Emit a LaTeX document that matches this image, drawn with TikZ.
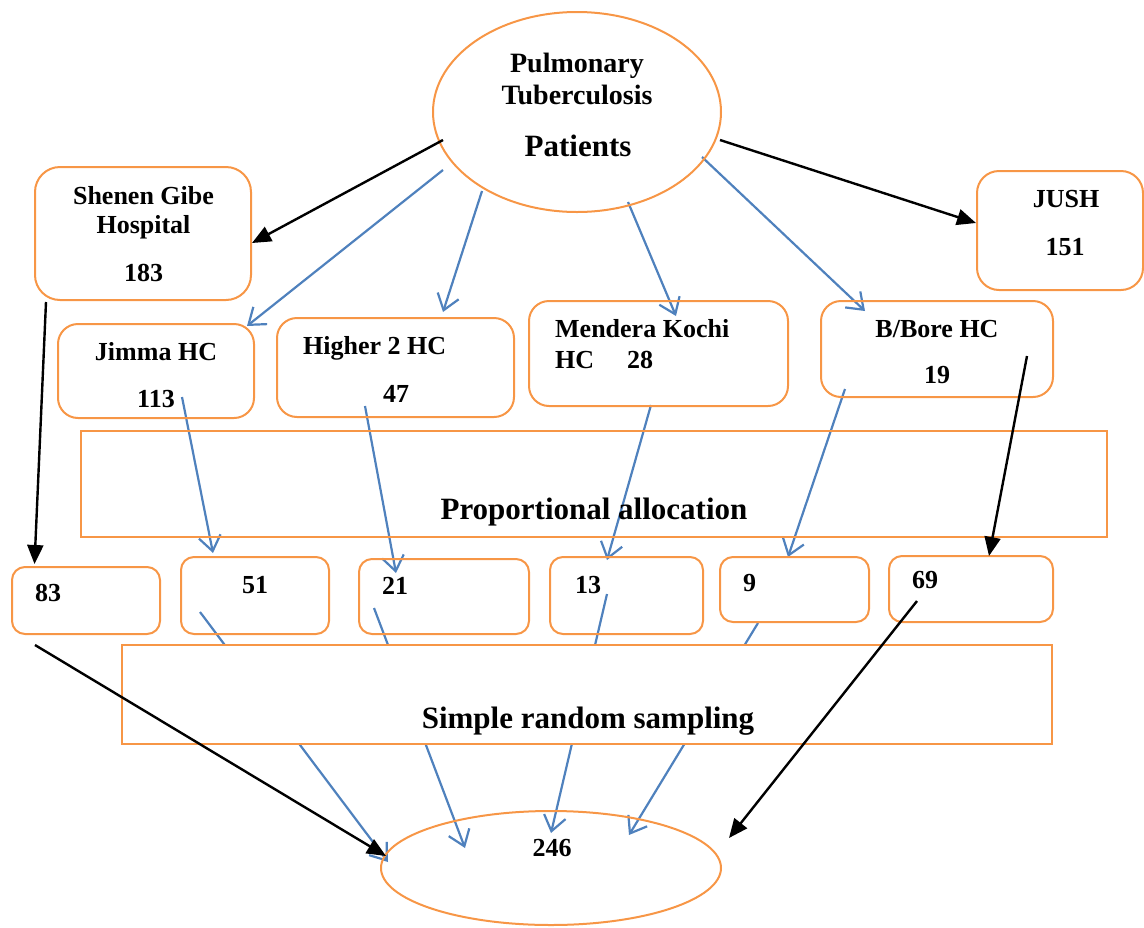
\documentclass[tikz,border=0pt]{standalone}
\usepackage{fontspec}
\setmainfont{Liberation Serif}
\usetikzlibrary{arrows.meta,shapes.geometric}
\definecolor{orng}{HTML}{F79646}
\definecolor{blu}{HTML}{4F81BD}
\begin{document}
\begin{tikzpicture}[x=1pt,y=-1pt,
  obox/.style={draw=orng,line width=2pt,rounded corners=#1,inner sep=0pt,outer sep=0pt},
  obox/.default=20pt,
  rbox/.style={draw=orng,line width=2pt,inner sep=0pt,outer sep=0pt},
  oell/.style={draw=orng,line width=2pt,ellipse,inner sep=0pt,outer sep=0pt},
  txt/.style={font=\fontsize{26}{30}\selectfont\bfseries,inner sep=0pt,anchor=base},
  ltxt/.style={txt,anchor=base west},
  bigtxt/.style={font=\fontsize{31}{35}\selectfont\bfseries,inner sep=0pt,anchor=base},
  medtxt/.style={font=\fontsize{28}{32}\selectfont\bfseries,inner sep=0pt,anchor=base},
  bluearrow/.style={draw=blu,line width=2.2pt,-{Straight Barb[length=15pt,width=22pt]}},
  blackarrow/.style={draw=black,line width=2.4pt,-{Triangle[length=19pt,width=16pt]}}
]
\useasboundingbox (0,0) rectangle (1144,927);

% ---------- endpoints ----------
\coordinate (k1s) at (443,140); \coordinate (k1e) at (252,243);
\coordinate (k2s) at (720,140); \coordinate (k2e) at (976,223);
\coordinate (k3s) at (46,302);  \coordinate (k3e) at (34.5,564);
\coordinate (k4s) at (1027,356); \coordinate (k4e) at (989,556);
\coordinate (k5s) at (35,645);  \coordinate (k5e) at (386,856);
\coordinate (k6s) at (917,601); \coordinate (k6e) at (729,838);

\coordinate (u1s) at (443,170); \coordinate (u1e) at (247,326);
\coordinate (u2s) at (482,191); \coordinate (u2e) at (443,312);
\coordinate (u3s) at (628,202); \coordinate (u3e) at (676,316);
\coordinate (u4s) at (702,157); \coordinate (u4e) at (865,311);
\coordinate (u5s) at (182,397); \coordinate (u5e) at (213,553);
\coordinate (u6s) at (365,406); \coordinate (u6e) at (396,573);
\coordinate (u7s) at (651,405); \coordinate (u7e) at (607,560);
\coordinate (u8s) at (845,389); \coordinate (u8e) at (788,557);
\coordinate (u9s) at (200,612); \coordinate (u9e) at (388,862);
\coordinate (u10s) at (374,608); \coordinate (u10e) at (465,848);
\coordinate (u11s) at (607,594); \coordinate (u11e) at (551,833);
\coordinate (u12s) at (758,623); \coordinate (u12e) at (629,835);

% ---------- blue connectors (behind) ----------
\draw[bluearrow] (u1s) -- (u1e);
\draw[bluearrow] (u2s) -- (u2e);
\draw[bluearrow] (u3s) -- (u3e);
\draw[bluearrow] (u4s) -- (u4e);
\draw[bluearrow] (u5s) -- (u5e);
\draw[bluearrow] (u6s) -- (u6e);
\draw[bluearrow] (u7s) -- (u7e);
\draw[bluearrow] (u8s) -- (u8e);
\draw[bluearrow] (u9s) -- (u9e);
\draw[bluearrow] (u10s) -- (u10e);
\draw[bluearrow] (u11s) -- (u11e);
\draw[bluearrow] (u12s) -- (u12e);

% ---------- shapes ----------
\node[oell,minimum width=288pt,minimum height=200pt] (ptb) at (577,112) {};
\node[obox=25pt,minimum width=216pt,minimum height=133pt] (sg) at (143,233.5) {};
\node[obox=22pt,minimum width=166pt,minimum height=119pt] (jush) at (1060,230.5) {};
\node[obox,minimum width=196pt,minimum height=94pt] (jimma) at (156,371) {};
\node[obox,minimum width=237pt,minimum height=99pt] (higher) at (395.5,367.5) {};
\node[obox,minimum width=259pt,minimum height=105pt] (mendera) at (658.5,353.5) {};
\node[obox,minimum width=232pt,minimum height=96pt] (bbore) at (937,349) {};
\node[rbox,minimum width=1026pt,minimum height=106pt] (pa) at (594,484) {};
\node[obox=13pt,minimum width=148pt,minimum height=67pt] (b83) at (86,600.5) {};
\node[obox=13pt,minimum width=148pt,minimum height=77pt] (b51) at (255,595.5) {};
\node[obox=13pt,minimum width=170pt,minimum height=75pt] (b21) at (444,596.5) {};
\node[obox=13pt,minimum width=153pt,minimum height=77pt] (b13) at (626.5,595.5) {};
\node[obox=13pt,minimum width=149pt,minimum height=65pt] (b9) at (794.5,589.5) {};
\node[obox=13pt,minimum width=164pt,minimum height=66pt] (b69) at (971,589) {};
\node[rbox,fill=white,minimum width=930pt,minimum height=99pt] (srs) at (587,694.5) {};
\node[oell,minimum width=340pt,minimum height=114pt] (tot) at (551,868) {};

% ---------- texts ----------
\node[medtxt] (t1) at (577,72) {Pulmonary};
\node[medtxt] (t2) at (577,104) {Tuberculosis};
\node[bigtxt] (t3) at (578,156) {Patients};
\node[txt] (t4) at (143.5,204) {Shenen Gibe};
\node[txt] (t5) at (143.5,233) {Hospital};
\node[txt] (t6) at (143.5,281) {183};
\node[txt] (t7) at (1066,207) {JUSH};
\node[txt] (t8) at (1065,255) {151};
\node[txt] (t9) at (156,360) {Jimma HC};
\node[txt] (t10) at (156,407) {113};
\node[ltxt] (t11) at (303,354) {Higher 2 HC};
\node[txt] (t12) at (396,402) {47};
\node[ltxt] (t13) at (555,337) {Mendera Kochi};
\node[ltxt] (t14) at (555,368) {HC\hspace{33pt}28};
\node[txt] (t15) at (937,337) {B/Bore HC};
\node[txt] (t16) at (937,383) {19};
\node[bigtxt] (t17) at (594,519) {Proportional allocation};
\node[ltxt] (t18) at (35,601) {83};
\node[txt] (t19) at (255,593) {51};
\node[ltxt] (t20) at (382,594) {21};
\node[ltxt] (t21) at (575,593) {13};
\node[ltxt] (t22) at (743,591) {9};
\node[ltxt] (t23) at (912,588) {69};
\node[bigtxt] (t24) at (588,728) {Simple random sampling};
\node[txt] (t25) at (552,856) {246};

% ---------- black connectors (front) ----------
\draw[blackarrow] (k1s) -- (k1e);
\draw[blackarrow] (k2s) -- (k2e);
\draw[blackarrow] (k3s) -- (k3e);
\draw[blackarrow] (k4s) -- (k4e);
\draw[blackarrow] (k5s) -- (k5e);
\draw[blackarrow] (k6s) -- (k6e);
\end{tikzpicture}
\end{document}
